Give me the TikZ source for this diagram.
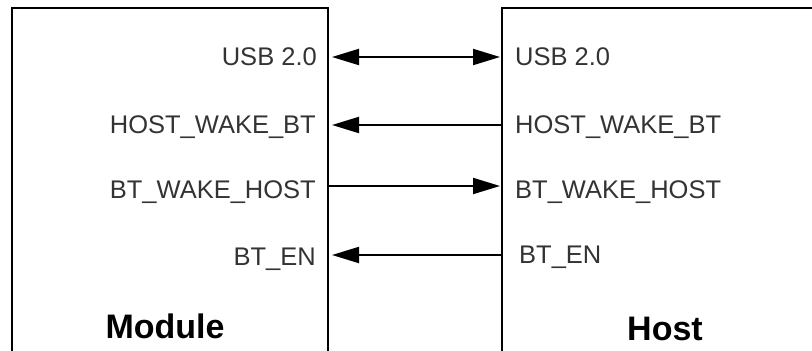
\documentclass[tikz,border=0pt]{standalone}
\usepackage{fontspec}
\setmainfont{Liberation Sans}
\usetikzlibrary{arrows.meta}
\tikzset{
  pin/.style={inner sep=0pt, text=black!80, font=\fontsize{25.5}{30}\selectfont},
  title/.style={inner sep=0pt, font=\bfseries\fontsize{34}{40}\selectfont},
  sig/.style={draw, line width=2pt, -{Triangle[length=27pt,width=16pt]}},
  box/.style={draw, line width=2pt},
}
\begin{document}
\begin{tikzpicture}[x=1pt,y=-1pt]
\useasboundingbox (0,0) rectangle (812,351);

% module and host outlines
\path[box] (12,360) -- (12,8) -- (328,8) -- (328,360);
\path[box] (502,360) -- (502,8) -- (820,8);

\node[pin, anchor=base east] (musb) at (317,65) {USB 2.0};
\node[pin, anchor=base east] (mhwb) at (316,133) {HOST\_WAKE\_BT};
\node[pin, anchor=base east] (mbwh) at (316,198) {BT\_WAKE\_HOST};
\node[pin, anchor=base east] (men) at (316,265) {BT\_EN};
\node[title] (module) at (165,326) {Module};

\node[pin, anchor=base west] (husb) at (515,65) {USB 2.0};
\node[pin, anchor=base west] (hhwb) at (515,133) {HOST\_WAKE\_BT};
\node[pin, anchor=base west] (hbwh) at (515,198) {BT\_WAKE\_HOST};
\node[pin, anchor=base west] (hen) at (519,263) {BT\_EN};
\node[title] (host) at (665,329) {Host};

\coordinate (m1) at (328,57);
\coordinate (m2) at (328,125);
\coordinate (m3) at (328,186);
\coordinate (m4) at (328,255);
\coordinate (h1) at (502,57);
\coordinate (h2) at (502,125);
\coordinate (h3) at (502,186);
\coordinate (h4) at (502,255);

\path[sig,{Triangle[length=27pt,width=16pt]}-{Triangle[length=27pt,width=16pt]},shorten <=4pt,shorten >=2pt] (m1) -- (h1);
\path[sig,shorten >=4pt] (h2) -- (m2);
\path[sig,shorten >=2pt] (m3) -- (h3);
\path[sig,shorten >=4pt] (h4) -- (m4);

\end{tikzpicture}
\end{document}
